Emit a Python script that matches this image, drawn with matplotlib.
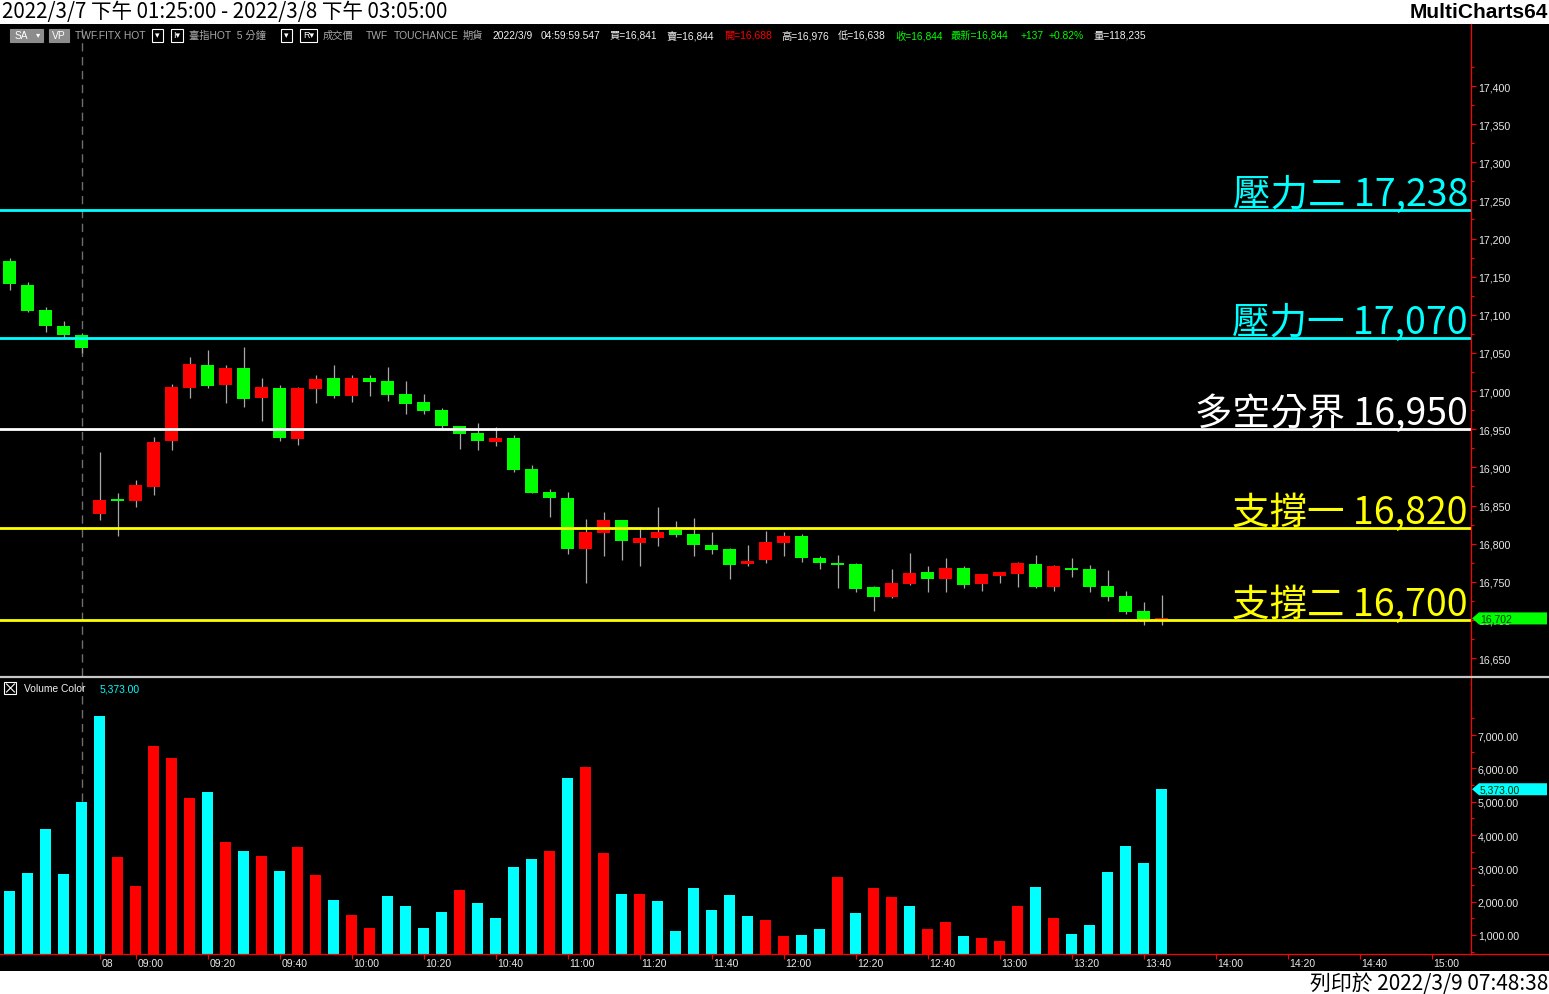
import matplotlib
matplotlib.use('Agg')
import matplotlib.pyplot as plt
import matplotlib.transforms as mtrans
from matplotlib.patches import Rectangle, Polygon
from matplotlib.ticker import FixedLocator, FuncFormatter
import numpy as np

# ---------------- data ----------------
opens = [17171, 17139, 17106, 17085, 17074, 16839, 16858, 16856, 16874, 16935,
         17004, 17034, 17008, 17030, 16991, 17004, 16937, 17003, 17017, 16994,
         17017, 17013, 16996, 16986, 16975, 16954, 16945, 16933, 16939, 16898,
         16868, 16860, 16793, 16814, 16831, 16801, 16807, 16818, 16813, 16798,
         16793, 16773, 16779, 16801, 16810, 16781, 16775, 16773, 16743, 16730,
         16747, 16763, 16754, 16768, 16747, 16758, 16760, 16773, 16743, 16768,
         16767, 16744, 16731, 16712, 16701]
highs = [17175, 17143, 17110, 17092, 17076, 16920, 16866, 16883, 16940, 17009,
         17045, 17054, 17034, 17058, 17017, 17008, 17005, 17021, 17034, 17021,
         17021, 17032, 17013, 16996, 16978, 16954, 16958, 16953, 16942, 16903,
         16872, 16868, 16832, 16842, 16831, 16822, 16848, 16830, 16834, 16815,
         16794, 16798, 16817, 16815, 16813, 16784, 16785, 16775, 16744, 16767,
         16788, 16771, 16781, 16771, 16760, 16763, 16776, 16785, 16772, 16781,
         16772, 16765, 16738, 16724, 16733]
lows = [17133, 17104, 17078, 17070, 17050, 16831, 16810, 16848, 16864, 16923,
        16991, 17004, 16984, 16979, 16961, 16935, 16929, 16984, 16991, 16986,
        16994, 16987, 16970, 16970, 16952, 16924, 16923, 16928, 16894, 16866,
        16835, 16786, 16748, 16784, 16779, 16771, 16797, 16809, 16784, 16786,
        16754, 16771, 16775, 16784, 16776, 16767, 16742, 16737, 16712, 16729,
        16746, 16737, 16737, 16742, 16738, 16748, 16743, 16742, 16738, 16756,
        16737, 16725, 16708, 16693, 16693]
closes = [17140, 17105, 17086, 17074, 17057, 16857, 16856, 16877, 16933, 17005,
          17036, 17007, 17030, 16990, 17005, 16939, 17004, 17016, 16994, 17017,
          17012, 16995, 16983, 16974, 16954, 16944, 16935, 16939, 16897, 16866,
          16860, 16793, 16815, 16831, 16804, 16807, 16815, 16811, 16798, 16792,
          16772, 16777, 16802, 16810, 16781, 16775, 16772, 16741, 16730, 16748,
          16762, 16754, 16768, 16746, 16760, 16763, 16775, 16743, 16771, 16765,
          16743, 16730, 16710, 16701, 16702]
volumes = [2320, 2860, 4180, 2830, 4990, 7570, 3340, 2470, 6670, 6310,
           5110, 5290, 3790, 3520, 3370, 2920, 3640, 2800, 2050, 1600,
           1210, 2170, 1870, 1210, 1690, 2350, 1960, 1510, 3040, 3280,
           3520, 5710, 6040, 3460, 2230, 2230, 2020, 1120, 2410, 1750,
           2200, 1570, 1450, 970, 1000, 1180, 2740, 1660, 2410, 2140,
           1870, 1180, 1390, 970, 910, 820, 1870, 2440, 1510, 1030,
           1300, 2890, 3670, 3160, 5373]
vol_dir = list("ccccccrrrrrcrcrcrrcrrc"
               "cccrccccrcrrcrccccccrr"
               "ccrcrrcrrcrrrcrcccccc")
level_names = ['壓力二', '壓力一', '多空分界', '支撐一', '支撐二']
level_values = [17238, 17070, 16950, 16820, 16700]
level_colors = ['#00FFFF', '#00FFFF', '#FFFFFF', '#FFFF00', '#FFFF00']
xtick_idx = [5] + list(range(7, 80, 4))
xtick_labels = ['08', '09:00', '09:20', '09:40', '10:00', '10:20', '10:40', '11:00',
                '11:20', '11:40', '12:00', '12:20', '12:40', '13:00', '13:20',
                '13:40', '14:00', '14:20', '14:40', '15:00']
session_break_idx = 4
last_price = 16702
last_volume = 5373

# ---------------- figure ----------------
W, H = 1549, 995
fig = plt.figure(figsize=(W / 100, H / 100), dpi=100, facecolor='black')

def fy(py):
    return 1 - py / H

AXR = 1471
ax = fig.add_axes([0, fy(677), AXR / W, fy(25) - fy(677)])
axv = fig.add_axes([0, fy(955), AXR / W, fy(679) - fy(955)])
for a in (ax, axv):
    a.set_facecolor('black')
    for s in a.spines.values():
        s.set_visible(False)
    a.set_xlim(-0.528, 81.194)

ax.set_ylim(16626.5, 17481.3)
axv.set_ylim(430, 8710)

GREEN = '#00FF00'
RED = '#FF0000'
CYAN = '#00FFFF'
n = len(opens)
x = np.arange(n)
O = np.array(opens, float); Hh = np.array(highs, float)
L = np.array(lows, float); C = np.array(closes, float)
cols = [RED if c >= o else GREEN for o, c in zip(O, C)]
bottom = np.minimum(O, C)
height = np.maximum(np.abs(C - O), 1.2)

# session break dashed line
for a in (ax, axv):
    a.axvline(session_break_idx, color='#6E6E6E', lw=1.0, dashes=(6, 4), zorder=0.5)

ax.vlines(x, L, Hh, colors='#A8A8A8', lw=0.9, zorder=2)
ax.bar(x, height, bottom=bottom, width=0.72, color=cols, linewidth=0, zorder=3)

# levels
ytrans = ax.get_yaxis_transform()
for name, val, col in zip(level_names, level_values, level_colors):
    ax.axhline(val, color=col, lw=2.0, zorder=4)
    ax.text(1468 / AXR, val, f"{name} {val:,}", color=col, fontsize=27, weight='light',
            family=['Noto Sans CJK TC', 'DejaVu Sans'], ha='right', va='baseline',
            transform=mtrans.offset_copy(ytrans, fig=fig, x=0, y=5, units='dots'),
            zorder=5, clip_on=False)

# volume
vcols = [CYAN if d == 'c' else RED for d in vol_dir]
axv.bar(x, volumes, width=0.61, color=vcols, linewidth=0, zorder=2)

# y axes (right)
for a in (ax, axv):
    a.yaxis.tick_right()
    a.tick_params(axis='y', which='both', direction='out', color=RED, labelcolor='#E8E8E8',
                  pad=1.5, width=0.8)
    a.tick_params(axis='y', which='major', length=3.5)
    a.tick_params(axis='y', which='minor', length=2.5)
ax.yaxis.set_major_locator(FixedLocator(np.arange(16650, 17401, 50)))
ax.yaxis.set_minor_locator(FixedLocator(np.arange(16675, 17426, 50)))
ax.yaxis.set_major_formatter(FuncFormatter(lambda v, p: f"{v:,.0f}"))
axv.yaxis.set_major_locator(FixedLocator(np.arange(1000, 7001, 1000)))
axv.yaxis.set_minor_locator(FixedLocator(np.arange(500, 7501, 1000)))
axv.yaxis.set_major_formatter(FuncFormatter(lambda v, p: f"{v:,.2f}"))
for a in (ax, axv):
    for lbl in a.get_yticklabels():
        lbl.set_family(['Liberation Sans', 'DejaVu Sans'])
        lbl.set_size(7.7)

ax.set_xticks([])
axv.set_xticks(xtick_idx)
axv.tick_params(axis='x', direction='out', color=RED, length=3.5, width=0.8, labelbottom=False)
xt = mtrans.offset_copy(axv.get_xaxis_transform(), fig=fig, x=2, y=-9, units='dots')
for i, lab in zip(xtick_idx, xtick_labels):
    axv.text(i, 0, lab, transform=xt, ha='left', va='center', color='#E8E8E8',
             family=['Liberation Sans', 'DejaVu Sans'], size=7.5, clip_on=False)

# tags for last values
def tag(a, val, half, text, fc):
    tr = a.get_yaxis_transform()
    pts = [(1472 / AXR, val), (1479 / AXR, val + half), (1547 / AXR, val + half),
           (1547 / AXR, val - half), (1479 / AXR, val - half)]
    a.add_patch(Polygon(pts, closed=True, transform=tr, facecolor=fc, edgecolor='none',
                        clip_on=False, zorder=6))
    a.text(1480 / AXR, val, text, transform=tr, ha='left', va='center', color='#003300',
           family=['Liberation Sans', 'DejaVu Sans'], size=7.5, clip_on=False, zorder=7)

tag(ax, last_price, 7.9, f"{last_price:,}", GREEN)
tag(axv, last_volume, 180, f"{last_volume:,.2f}", CYAN)

# ---------------- overlay (pixel coords) ----------------
ov = fig.add_axes([0, 0, 1, 1], zorder=10)
ov.set_xlim(0, W); ov.set_ylim(H, 0); ov.axis('off'); ov.patch.set_alpha(0)
ov.add_patch(Rectangle((0, 0), W, 25, facecolor='white', edgecolor='none'))
ov.add_patch(Rectangle((0, 972), W, H - 972, facecolor='white', edgecolor='none'))
ov.plot([AXR, AXR], [25, 955], color=RED, lw=0.9)
ov.plot([0, W], [955, 955], color=RED, lw=0.9)
ov.plot([0, W], [678, 678], color='#C8C8C8', lw=1.6)

cjk = ['Noto Sans CJK TC', 'DejaVu Sans']
ov.text(2, 12.5, '2022/3/7 下午 01:25:00 - 2022/3/8 下午 03:05:00', color='black',
        family=cjk, size=14.8, ha='left', va='center')
ov.text(1548, 12.5, 'MultiCharts64', color='black', family=['Liberation Sans', 'DejaVu Sans'],
        weight='bold', size=15, ha='right', va='center')
ov.text(1548, 984, '列印於 2022/3/9 07:48:38', color='black', family=cjk, size=15,
        ha='right', va='center')

# info bar
info_font = ['Liberation Sans', 'Noto Sans CJK TC', 'DejaVu Sans']
IY = 36
def box(x0, x1, fc, ec):
    ov.add_patch(Rectangle((x0, IY - 6.5), x1 - x0, 13, facecolor=fc, edgecolor=ec, lw=0.8))
box(10, 33, '#8C8C8C', '#8C8C8C'); box(33.5, 43, '#8C8C8C', '#8C8C8C')
ov.text(21.5, IY, 'SA', color='white', family=info_font, size=7.4, ha='center', va='center')
ov.text(38.2, IY, '▾', color='white', family=info_font, size=6, ha='center', va='center')
box(49, 69, '#8C8C8C', '#8C8C8C')
ov.text(59, IY, 'VP', color='white', family=info_font, size=7.4, ha='center', va='center')
for (x0, x1, t) in [(152, 163, '▾'), (171, 183, 'I▾'), (281, 292, '▾'), (300, 317, 'R▾')]:
    box(x0, x1, 'black', 'white')
    ov.text((x0 + x1) / 2, IY, t, color='white', family=info_font, size=6.5,
            ha='center', va='center')
GRAY = '#A8A8A8'
WHITE = '#F0F0F0'
info_items = [(75, 'TWF.FITX HOT', GRAY), (189, '臺指HOT  5 分鐘', GRAY),
              (323, '成交價', GRAY), (366, 'TWF', GRAY), (394, 'TOUCHANCE', GRAY),
              (463, '期貨', GRAY), (493, '2022/3/9', WHITE), (541, '04:59:59.547', WHITE),
              (610, '買=16,841', WHITE), (667, '賣=16,844', WHITE), (724, '開=16,688', RED),
              (781, '高=16,976', WHITE), (838, '低=16,638', WHITE), (895, '收=16,844', GREEN),
              (951, '最新=16,844', GREEN), (1021, '+137', GREEN), (1049, '+0.82%', GREEN),
              (1094, '量=118,235', WHITE)]
for xx, t, c in info_items:
    ov.text(xx, IY, t, color=c, family=info_font, size=7.4, ha='left', va='center')

# volume panel header
ov.add_patch(Rectangle((4.5, 683), 12, 12, facecolor='black', edgecolor='white', lw=0.8))
ov.plot([6.5, 14.5], [685, 693], color='white', lw=0.8)
ov.plot([6.5, 14.5], [693, 685], color='white', lw=0.8)
ov.text(24, 689, 'Volume Color', color=WHITE, family=info_font, size=7.4, ha='left', va='center')
ov.text(100, 689, f"{last_volume:,.2f}", color=CYAN, family=info_font, size=7.4,
        ha='left', va='center')

fig.savefig('out.png', dpi=100, facecolor='black')
